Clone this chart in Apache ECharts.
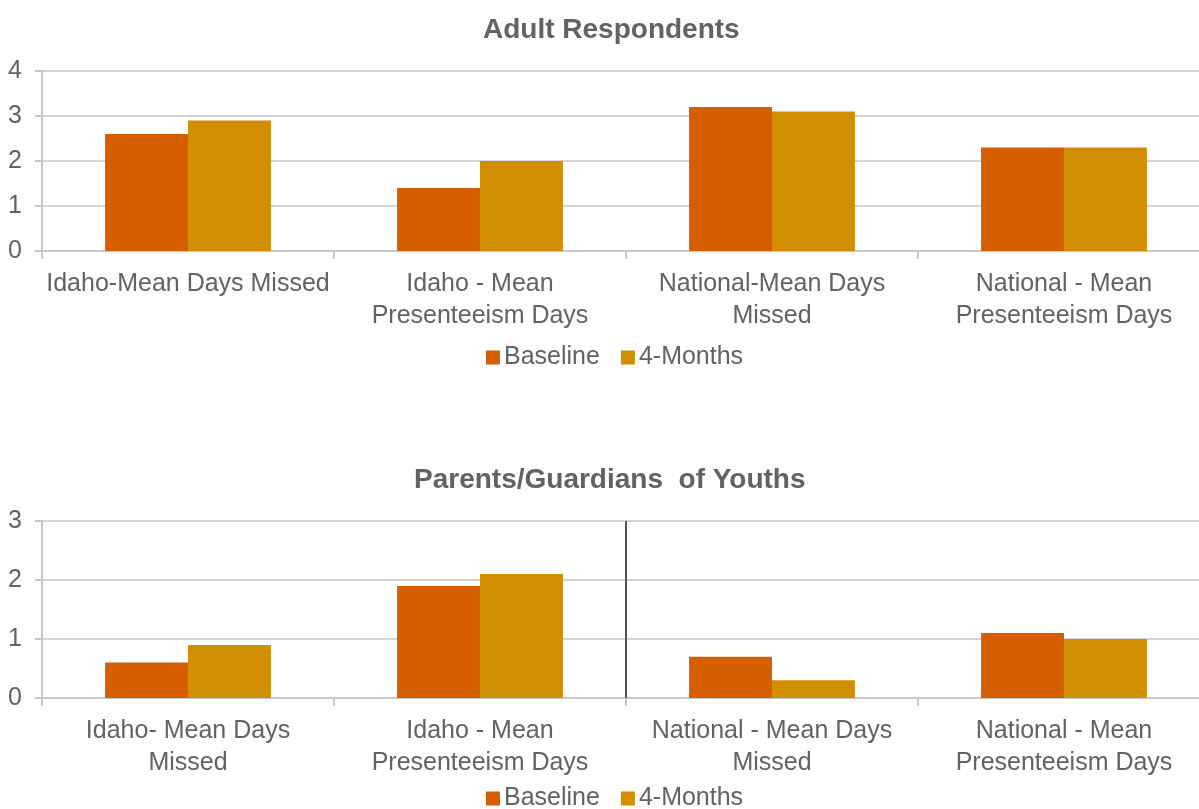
<!DOCTYPE html>
<html>
<head>
<meta charset="utf-8">
<script src="https://cdn.jsdelivr.net/npm/echarts@6/dist/echarts.min.js"></script>
<style>
html,body{margin:0;padding:0;background:#fff;overflow:hidden;}
#chart{width:1199px;height:809px;}
</style>
</head>
<body>
<div id="chart"></div>
<script>
var adultCategories = ['Idaho-Mean Days Missed', 'Idaho - Mean\nPresenteeism Days', 'National-Mean Days\nMissed', 'National - Mean\nPresenteeism Days'];
var adultBaseline = [2.6, 1.4, 3.2, 2.3];
var adult4Months = [2.9, 2.0, 3.1, 2.3];

var parentCategories = ['Idaho- Mean Days\nMissed', 'Idaho - Mean\nPresenteeism Days', 'National - Mean Days\nMissed', 'National - Mean\nPresenteeism Days'];
var parentBaseline = [0.6, 1.9, 0.7, 1.1];
var parent4Months = [0.9, 2.1, 0.3, 1.0];

var adultTicks = [0, 1, 2, 3, 4];
var parentTicks = [0, 1, 2, 3];
var dividerLine = [[2, 0], [2, 3]];

var FONT = '"Liberation Sans", Arial, sans-serif';
var TXT = '#626262';
var C_BASE = '#D45E00';
var C_4M = '#D18F00';

function yAxisFor(gridIndex, ticks) {
  return {
    type: 'value', gridIndex: gridIndex,
    min: ticks[0], max: ticks[ticks.length - 1], interval: ticks[1] - ticks[0],
    axisLine: {show: true, lineStyle: {color: '#c8c8c8', width: 2}},
    axisTick: {show: true, length: 7, lineStyle: {color: '#c8c8c8', width: 2}},
    splitLine: {show: true, lineStyle: {color: '#d4d4d4', width: 2}},
    axisLabel: {color: TXT, fontSize: 25, fontFamily: FONT, margin: 20}
  };
}
function xAxisFor(gridIndex, cats) {
  return {
    type: 'category', gridIndex: gridIndex, data: cats,
    axisLine: {show: true, lineStyle: {color: '#c8c8c8', width: 2}},
    axisTick: {show: true, length: 8, lineStyle: {color: '#c8c8c8', width: 2}},
    axisLabel: {color: TXT, fontSize: 25, fontFamily: FONT, margin: 17, lineHeight: 32, interval: 0}
  };
}
function legendAt(top) {
  return {
    top: top, left: 481, data: ['Baseline', '4-Months'],
    icon: 'rect', itemWidth: 14, itemHeight: 14, itemGap: 21,
    textStyle: {color: TXT, fontSize: 25, fontFamily: FONT, padding: [0, 0, 0, -1]}
  };
}
function bar(name, data, color, xi, yi) {
  return {
    name: name, type: 'bar', data: data, xAxisIndex: xi, yAxisIndex: yi,
    barWidth: '28.4%', barGap: '0%', itemStyle: {color: color}
  };
}

var chart = echarts.init(document.getElementById('chart'), null, {renderer: 'canvas'});
chart.setOption({
  animation: false,
  backgroundColor: '#fff',
  title: [
    {text: 'Adult Respondents', left: 478, top: 11,
     textStyle: {color: TXT, fontSize: 28, fontWeight: 'bold', fontFamily: FONT}},
    {text: 'Parents/Guardians  of Youths', left: 409, top: 461,
     textStyle: {color: TXT, fontSize: 28, fontWeight: 'bold', fontFamily: FONT}}
  ],
  legend: [legendAt(340), legendAt(781)],
  grid: [
    {left: 42, width: 1168, top: 71, height: 180, containLabel: false, outerBoundsMode: 'none'},
    {left: 42, width: 1168, top: 521, height: 177, containLabel: false, outerBoundsMode: 'none'}
  ],
  xAxis: [
    xAxisFor(0, adultCategories),
    xAxisFor(1, parentCategories),
    {type: 'value', gridIndex: 1, min: 0, max: 4, show: false}
  ],
  yAxis: [yAxisFor(0, adultTicks), yAxisFor(1, parentTicks)],
  series: [
    bar('Baseline', adultBaseline, C_BASE, 0, 0),
    bar('4-Months', adult4Months, C_4M, 0, 0),
    bar('Baseline', parentBaseline, C_BASE, 1, 1),
    bar('4-Months', parent4Months, C_4M, 1, 1),
    {type: 'line', data: dividerLine, xAxisIndex: 2, yAxisIndex: 1, symbol: 'none',
     lineStyle: {color: '#555555', width: 2}, silent: true, z: 5}
  ]
});
</script>
</body>
</html>
